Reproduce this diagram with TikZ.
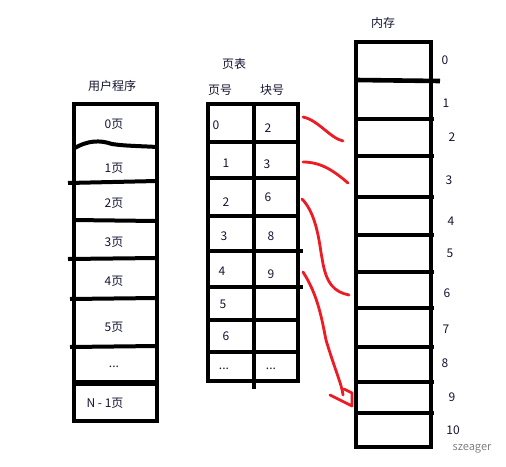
\documentclass[tikz,border=0pt]{standalone}
\usepackage{fontspec}
\setmainfont{Noto Sans CJK SC}
\usetikzlibrary{positioning}
\definecolor{paintred}{RGB}{237,28,36}
\definecolor{inkblue}{RGB}{20,20,50}
\newcommand{\tripledot}{...}

\begin{document}
\begin{tikzpicture}[x=1pt, y=-1pt,
  frame/.style={line width=4.6pt},
  divider/.style={line width=4pt},
  txt/.style={inner sep=0pt, text=inkblue, font=\fontsize{12}{14}\selectfont},
  link/.style={draw=paintred, line width=2.8pt, line cap=round, line join=round}]
\useasboundingbox (0,0) rectangle (506,466);

% user program
\node[txt] (prog) at (112,86) {用户程序};
\draw[frame] (74,104) rectangle (157,421);
\draw[divider] (73,149) .. controls (88,140) and (100,140) .. (112,144)
  .. controls (125,146) and (140,146) .. (157,147);
\draw[divider] (68,183) -- (157,181);
\draw[divider] (73,220) -- (157,221);
\draw[divider] (68,259) -- (157,258);
\draw[divider] (70,299) -- (157,298);
\draw[divider] (70,347) -- (157,346);
\draw[line width=5.5pt] (73,383) -- (157,383);
\foreach \i/\y/\t in {0/124/0页, 1/168/1页, 2/203/2页, 3/242/3页,
                      4/281/4页, 5/327/5页, 6/367/\tripledot}
  \node[txt] (pg\i) at (114,\y) {\t};
\node[txt] (pg7) at (105,403) {N - 1页};

% page table
\node[txt] (table) at (234,64) {页表};
\node[txt] (colpage) at (220,90) {页号};
\node[txt] (colblock) at (272,90) {块号};
\draw[frame] (208,104) rectangle (298,381);
\draw[frame] (254,104) -- (254,389);
\foreach \y in {142,178,216,320,352}
  \draw[frame] (208,\y) -- (298,\y);
\foreach \y in {251,287}
  \draw[frame] (208,\y) -- (303,\y);
\foreach \i/\x/\y/\t in {0/216/125/0, 1/226/163/1, 2/226/202/2, 3/224/236/3,
                         4/222/271/4, 5/223/304/5, 6/226/336/6, 7/224/369/\tripledot}
  \node[txt] (no\i) at (\x,\y) {\t};
\foreach \i/\x/\y/\t in {0/268/128/2, 1/267/164/3, 2/268/197/6,
                         3/271/236/8, 4/271/274/9, 7/271/369/\tripledot}
  \node[txt] (blk\i) at (\x,\y) {\t};

% memory
\node[txt] (mem) at (383,23) {内存};
\draw[frame] (356,42) rectangle (431,447);
\draw[frame] (356,80) -- (440,81);
\foreach \y in {119,156,197,235,272,308,347,382,413}
  \draw[frame] (356,\y) -- (434,\y);
\foreach \i/\x/\y in {0/445/60, 1/446/103, 2/452/137, 3/449/180, 4/451/221,
                      5/450/253, 6/447/293, 7/446/329, 8/445/363, 9/452/397, 10/453/430}
  \node[txt] (m\i) at (\x,\y) {\i};
\node[inner sep=0pt, text=gray, font=\fontsize{11}{13}\selectfont] (mark) at (472,449) {szeager};

% mapping
\coordinate (s0) at (303,117); \coordinate (t0) at (343,141);
\coordinate (s1) at (303,162); \coordinate (t1) at (348,183);
\coordinate (s2) at (302,199); \coordinate (t2) at (349,295);
\coordinate (s3) at (303,272); \coordinate (t3) at (352,406);
\draw[link] (s0) .. controls (318,120) and (330,138) .. (t0);
\draw[link] (s1) .. controls (322,162) and (335,172) .. (t1);
\draw[link] (s2) .. controls (318,215) and (320,250) .. (322,258)
  .. controls (326,285) and (335,292) .. (t2);
\draw[link] (s3) .. controls (318,295) and (322,320) .. (326,340)
  .. controls (335,370) and (342,385) .. (343,395);
\draw[link] (330,395) -- (t3) -- (352,393) -- (344,389);
\end{tikzpicture}
\end{document}
